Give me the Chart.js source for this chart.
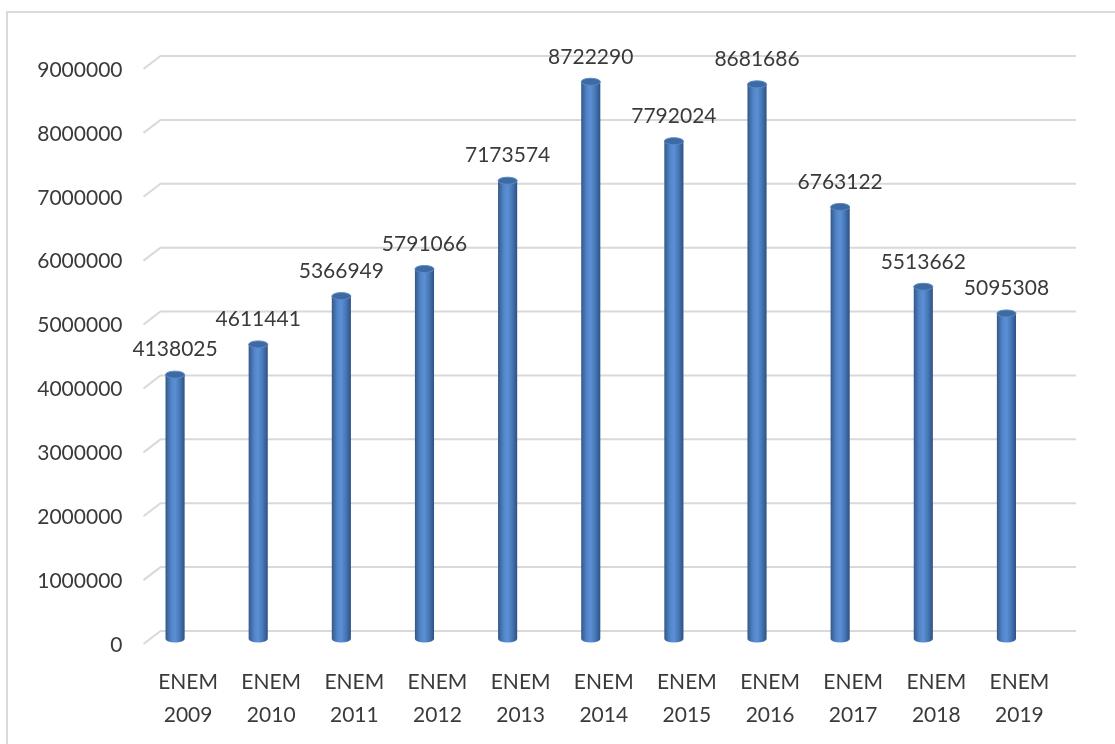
<!DOCTYPE html>
<html>
<head>
<meta charset="utf-8">
<script src="https://cdn.jsdelivr.net/npm/chart.js@4.4.1/dist/chart.umd.min.js"></script>
<style>
  html, body { margin: 0; padding: 0; background: #fff; }
  #wrap { position: relative; width: 1115px; height: 744px; overflow: hidden; }
  #frame { position: absolute; left: 6px; top: 11px; width: 1200px; height: 800px; border: 2px solid #d9d9d9; }
  #chart { position: absolute; left: 0; top: 0; }
</style>
</head>
<body>
<div id="wrap">
  <div id="frame"></div>
  <canvas id="chart" width="1115" height="744"></canvas>
</div>
<script>
// ENEM inscritos por edição
const years = ['2009', '2010', '2011', '2012', '2013', '2014', '2015', '2016', '2017', '2018', '2019'];
const inscritos = [4138025, 4611441, 5366949, 5791066, 7173574, 8722290, 7792024, 8681686, 6763122, 5513662, 5095308];
const yTicks = [0, 1000000, 2000000, 3000000, 4000000, 5000000, 6000000, 7000000, 8000000, 9000000];

const textColor = '#3a3a3a';
const fontFamily = "Lato, 'Open Sans', sans-serif";

// Grid lines with the little 3D slant on the left, cylinders and value labels
const cylinderBars = {
    id: 'cylinderBars',
    beforeDatasetsDraw(chart) {
        const { ctx, chartArea, scales: { y } } = chart;
        ctx.save();
        ctx.strokeStyle = '#d9d9d9';
        ctx.lineWidth = 2;
        y.ticks.forEach((t) => {
            const py = y.getPixelForValue(t.value);
            ctx.beginPath();
            ctx.moveTo(chartArea.left + 10, py + 5);
            ctx.lineTo(chartArea.left + 27, py - 8);
            ctx.lineTo(chartArea.right + 28, py - 8);
            ctx.stroke();
        });
        ctx.restore();
    },
    afterDatasetsDraw(chart) {
        const { ctx } = chart;
        const meta = chart.getDatasetMeta(0);
        ctx.save();
        meta.data.forEach((bar, i) => {
            const w = bar.width;
            const x0 = bar.x - w / 2;
            const ry = 3.5;

            const grad = ctx.createLinearGradient(x0, 0, x0 + w, 0);
            grad.addColorStop(0, '#34588a');
            grad.addColorStop(0.3, '#5286c9');
            grad.addColorStop(0.5, '#5b90d6');
            grad.addColorStop(0.75, '#4676b4');
            grad.addColorStop(1, '#2d5184');
            ctx.fillStyle = grad;
            ctx.fillRect(x0, bar.y, w, bar.base - bar.y);

            ctx.beginPath();
            ctx.ellipse(bar.x, bar.base, w / 2, ry, 0, 0, Math.PI);
            ctx.fill();

            ctx.beginPath();
            ctx.ellipse(bar.x, bar.y, w / 2, ry, 0, 0, 2 * Math.PI);
            ctx.fillStyle = '#3e6aa3';
            ctx.fill();
            ctx.strokeStyle = '#5a88c4';
            ctx.lineWidth = 1;
            ctx.stroke();

            ctx.fillStyle = textColor;
            ctx.font = `21px ${fontFamily}`;
            ctx.textAlign = 'center';
            ctx.textBaseline = 'middle';
            ctx.fillText(String(inscritos[i]), bar.x, bar.y - 25);
        });
        ctx.restore();
    },
};

new Chart(document.getElementById('chart'), {
    type: 'bar',
    data: {
        labels: years.map((y) => ['ENEM', y]),
        datasets: [
            {
                data: inscritos,
                backgroundColor: 'rgba(0, 0, 0, 0)',
                borderWidth: 0,
                barPercentage: 0.23,
                categoryPercentage: 1,
            },
        ],
    },
    options: {
        responsive: false,
        animation: false,
        devicePixelRatio: 1,
        layout: {
            padding: { top: 64, right: 67, bottom: 14, left: 0 },
        },
        plugins: {
            legend: { display: false },
            tooltip: { enabled: false },
        },
        scales: {
            x: {
                afterFit: (scale) => {
                    scale.height = 91;
                },
                grid: { display: false, drawTicks: false },
                border: { display: false },
                ticks: {
                    color: textColor,
                    font: { family: fontFamily, size: 21, lineHeight: 1.57 },
                    padding: 27,
                    labelOffset: 13,
                    maxRotation: 0,
                    autoSkip: false,
                },
            },
            y: {
                min: 0,
                max: 9000000,
                afterBuildTicks: (scale) => {
                    scale.ticks = yTicks.map((v) => ({ value: v }));
                },
                afterFit: (scale) => {
                    scale.width = 133.5;
                },
                grid: { display: false, drawTicks: false },
                border: { display: false },
                ticks: {
                    color: textColor,
                    font: { family: fontFamily, size: 21 },
                    padding: 11,
                    labelOffset: 6,
                    callback: (v) => String(v),
                },
            },
        },
    },
    plugins: [cylinderBars],
});
</script>
</body>
</html>
